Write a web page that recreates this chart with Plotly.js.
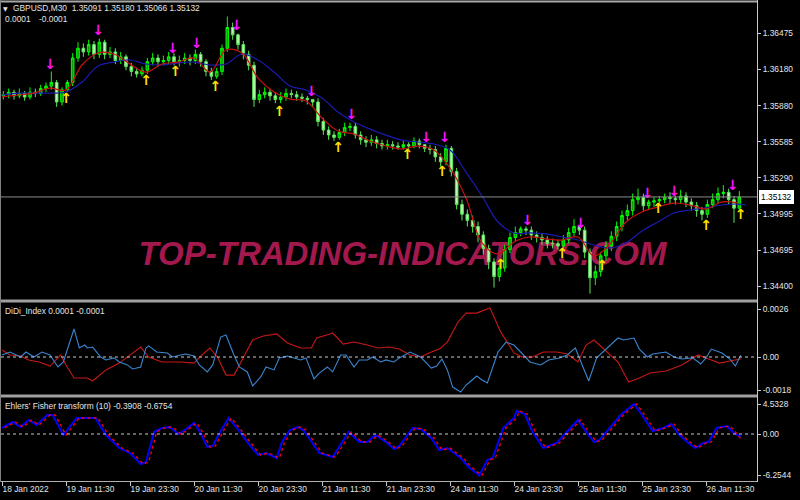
<!DOCTYPE html>
<html><head><meta charset="utf-8">
<script src="https://cdn.plot.ly/plotly-3.0.1.min.js"></script>
<style>html,body{margin:0;padding:0;background:#000;}#chart{width:800px;height:500px;}</style>
</head><body><div id="chart"></div>
<script>
// ---------- DATA ----------
const symbolTitle = 'GBPUSD,M30';
const lastBarOHLC = '1.35091 1.35180 1.35066 1.35132';
const lastPrice = 1.35132;
const tickIdx = [0,24,48,72,96,120,144,168,192,216,240,264];
const tickText = ['18 Jan 2022','19 Jan 11:30','19 Jan 23:30','20 Jan 11:30','20 Jan 23:30','21 Jan 11:30','21 Jan 23:30','24 Jan 11:30','24 Jan 23:30','25 Jan 11:30','25 Jan 23:30','26 Jan 11:30'];
const priceTickText = ['1.36475','1.36180','1.35880','1.35585','1.35290','1.34995','1.34695','1.34400'];
const didiTickVals = [0.0026, 0, -0.0018];
const didiTickText = ['0.0026','0.00','-0.0018'];
const fisherTickVals = [4.5328, 0, -6.2544];
const fisherTickText = ['4.5328','0.00','-6.2544'];

const openP = [1.3596,1.3597,1.3599,1.3596,1.3598,1.3595,1.3599,1.3598,1.3602,1.3604,
1.3607,1.3591,1.3601,1.3607,1.3627,1.3635,1.3632,1.3638,1.3630,1.3640,
1.3630,1.3632,1.3625,1.3628,1.3620,1.3616,1.3614,1.3617,1.3624,1.3627,
1.3624,1.3625,1.3628,1.3624,1.3625,1.3627,1.3625,1.3630,1.3624,1.3616,
1.3612,1.3616,1.3635,1.3652,1.3646,1.3638,1.3630,1.3621,1.3593,1.3597,
1.3599,1.3596,1.3593,1.3595,1.3598,1.3597,1.3595,1.3594,1.3593,1.3591,
1.3575,1.3568,1.3564,1.3562,1.3566,1.3570,1.3571,1.3564,1.3560,1.3558,
1.3560,1.3557,1.3555,1.3556,1.3555,1.3554,1.3556,1.3555,1.3559,1.3556,
1.3553,1.3552,1.3546,1.3542,1.3553,1.3534,1.3507,1.3499,1.3494,1.3489,
1.3482,1.3471,1.3460,1.3448,1.3455,1.3470,1.3480,1.3484,1.3487,1.3486,
1.3482,1.3480,1.3478,1.3475,1.3475,1.3473,1.3478,1.3484,1.3489,1.3486,
1.3468,1.3447,1.3452,1.3465,1.3473,1.3481,1.3489,1.3498,1.3502,1.3511,
1.3513,1.3506,1.3509,1.3510,1.3511,1.3513,1.3512,1.3511,1.3514,1.3509,
1.3506,1.3502,1.3499,1.3507,1.3511,1.3516,1.3517,1.3511,1.3504];
const highP = [1.3600,1.3602,1.3601,1.3602,1.3600,1.3603,1.3602,1.3605,1.3607,1.3616,
1.3609,1.3603,1.3609,1.3631,1.3640,1.3639,1.3642,1.3641,1.3643,1.3642,
1.3636,1.3635,1.3632,1.3630,1.3623,1.3619,1.3620,1.3627,1.3631,1.3630,
1.3629,1.3632,1.3631,1.3629,1.3631,1.3630,1.3634,1.3632,1.3626,1.3619,
1.3619,1.3638,1.3661,1.3656,1.3647,1.3641,1.3633,1.3624,1.3601,1.3603,
1.3602,1.3599,1.3599,1.3602,1.3601,1.3600,1.3598,1.3596,1.3593,1.3594,
1.3578,1.3571,1.3567,1.3569,1.3574,1.3574,1.3574,1.3567,1.3563,1.3564,
1.3563,1.3560,1.3560,1.3559,1.3558,1.3559,1.3558,1.3562,1.3561,1.3556,
1.3556,1.3555,1.3549,1.3556,1.3555,1.3537,1.3511,1.3503,1.3498,1.3493,
1.3485,1.3474,1.3463,1.3459,1.3474,1.3484,1.3489,1.3489,1.3489,1.3489,
1.3485,1.3483,1.3481,1.3479,1.3478,1.3482,1.3488,1.3495,1.3490,1.3489,
1.3471,1.3457,1.3468,1.3477,1.3485,1.3493,1.3502,1.3507,1.3516,1.3520,
1.3516,1.3511,1.3513,1.3514,1.3516,1.3517,1.3514,1.3519,1.3517,1.3512,
1.3509,1.3505,1.3511,1.3516,1.3521,1.3523,1.3520,1.3514,1.3518];
const lowP = [1.3593,1.3594,1.3593,1.3594,1.3592,1.3593,1.3595,1.3596,1.3599,1.3601,
1.3587,1.3588,1.3599,1.3604,1.3624,1.3628,1.3629,1.3626,1.3627,1.3626,
1.3627,1.3622,1.3622,1.3617,1.3612,1.3611,1.3612,1.3614,1.3621,1.3620,
1.3621,1.3622,1.3621,1.3620,1.3622,1.3621,1.3622,1.3620,1.3612,1.3609,
1.3610,1.3613,1.3632,1.3642,1.3634,1.3626,1.3617,1.3587,1.3590,1.3594,
1.3592,1.3590,1.3590,1.3592,1.3594,1.3592,1.3591,1.3589,1.3587,1.3571,
1.3564,1.3560,1.3559,1.3560,1.3563,1.3567,1.3561,1.3556,1.3554,1.3555,
1.3553,1.3552,1.3552,1.3552,1.3552,1.3552,1.3552,1.3553,1.3553,1.3550,
1.3548,1.3542,1.3538,1.3539,1.3530,1.3503,1.3494,1.3489,1.3484,1.3476,
1.3466,1.3454,1.3439,1.3444,1.3452,1.3467,1.3477,1.3481,1.3482,1.3478,
1.3476,1.3474,1.3471,1.3471,1.3470,1.3471,1.3475,1.3481,1.3482,1.3463,
1.3434,1.3441,1.3448,1.3461,1.3469,1.3477,1.3485,1.3494,1.3498,1.3507,
1.3502,1.3503,1.3505,1.3508,1.3508,1.3508,1.3507,1.3508,1.3505,1.3502,
1.3497,1.3494,1.3496,1.3504,1.3508,1.3512,1.3507,1.3492,1.3503];
const closeP = [1.3597,1.3599,1.3596,1.3598,1.3595,1.3599,1.3598,1.3602,1.3604,1.3607,
1.3591,1.3601,1.3607,1.3627,1.3635,1.3632,1.3638,1.3630,1.3640,1.3630,
1.3632,1.3625,1.3628,1.3620,1.3616,1.3614,1.3617,1.3624,1.3627,1.3624,
1.3625,1.3628,1.3624,1.3625,1.3627,1.3625,1.3630,1.3624,1.3616,1.3612,
1.3616,1.3635,1.3652,1.3646,1.3638,1.3630,1.3621,1.3593,1.3597,1.3599,
1.3596,1.3593,1.3595,1.3598,1.3597,1.3595,1.3594,1.3593,1.3591,1.3575,
1.3568,1.3564,1.3562,1.3566,1.3570,1.3571,1.3564,1.3560,1.3558,1.3560,
1.3557,1.3555,1.3556,1.3555,1.3554,1.3556,1.3555,1.3559,1.3556,1.3553,
1.3552,1.3546,1.3542,1.3553,1.3534,1.3507,1.3499,1.3494,1.3489,1.3482,
1.3471,1.3460,1.3448,1.3455,1.3470,1.3480,1.3484,1.3487,1.3486,1.3482,
1.3480,1.3478,1.3475,1.3475,1.3473,1.3478,1.3484,1.3489,1.3486,1.3468,
1.3447,1.3452,1.3465,1.3473,1.3481,1.3489,1.3498,1.3502,1.3511,1.3513,
1.3506,1.3509,1.3510,1.3511,1.3513,1.3512,1.3511,1.3514,1.3509,1.3506,
1.3502,1.3499,1.3507,1.3511,1.3516,1.3517,1.3511,1.3504,1.35132];

const maIdx = [0,6,12,18,24,30,36,42,48,54,60,66,72,78,84,90,96,102,108,114,120,126,132,138,144,150,156,162,168,174,180,186,192,198,204,210,216,222,228,234,240,246,252,258,264,270,276];
const fastMA = [1.35951,1.35967,1.35983,1.36024,1.36008,1.36213,1.36311,1.36303,1.36221,1.36155,1.36221,1.36237,1.36270,1.36155,1.36336,1.36311,1.36106,1.35992,1.35934,1.35918,1.35779,1.35672,1.35648,1.35590,1.35549,1.35525,1.35549,1.35517,1.35369,1.35123,1.34755,1.34665,1.34763,1.34804,1.34788,1.34779,1.34804,1.34648,1.34747,1.34927,1.35009,1.35050,1.35082,1.35066,1.35033,1.35091,1.35082];
const slowIdx = [0,6,12,18,24,30,36,42,48,54,60,66,72,78,84,90,96,102,108,114,120,126,132,138,144,150,156,162,168,174,180,186,192,198,204,210,216,222,228,234,240,246,252,258,264,270,276,279];
const slowMA = [1.35967,1.35983,1.35983,1.35983,1.35992,1.36073,1.36204,1.36237,1.36254,1.36221,1.36213,1.36229,1.36237,1.36213,1.36221,1.36303,1.36254,1.36155,1.36041,1.36008,1.35942,1.35828,1.35746,1.35688,1.35639,1.35598,1.35582,1.35566,1.35517,1.35336,1.35140,1.34927,1.34837,1.34837,1.34829,1.34804,1.34779,1.34738,1.34714,1.34755,1.34853,1.34927,1.35001,1.35025,1.35042,1.35066,1.35074,1.35066];

const sellIdx = [18,36,64,73,88,116,131,159,166,197,217,242,252,274];
const sellPrice = [1.3621,1.3649,1.3634,1.3638,1.3653,1.3599,1.3580,1.3561,1.3561,1.3493,1.3491,1.3515,1.3517,1.3522];
const buyIdx = [24,54,65,80,104,126,152,165,187,210,225,246,264,277];
const buyPrice = [1.3593,1.3608,1.3615,1.3603,1.3582,1.3553,1.3547,1.3533,1.3457,1.3466,1.3456,1.3503,1.3489,1.3498];

const didiBlueIdx = [0,3,7,9,12,15,18,21,23,27,29,31,32,34,37,39,42,44,47,49,52,54,55,58,62,64,67,69,72,74,77,79,82,84,87,89,92,94,97,99,102,104,107,109,112,114,117,119,122,124,127,129,132,134,137,139,142,144,147,149,153,157,161,163,165,167,169,172,174,175,178,180,182,186,189,192,195,198,202,205,209,212,215,217,220,223,227,231,233,237,239,242,244,249,252,255,259,262,264,266,270,273,275,277];
const didiBlue = [0.00011,0.00027,0,0.00027,0,0.00027,0.00011,-0.00054,-0.00027,0.00152,0.00049,0.00065,0.00049,0.00054,0,-0.00016,-0.00005,-0.00027,-0.00043,-0.00065,-0.00054,0.00049,0.0006,0.00027,0.00022,0,0.00011,0.00016,0.00005,-0.00043,-0.00081,-0.00043,0.00108,0.00119,0.00011,-0.00054,-0.00081,-0.00157,-0.00108,-0.00054,-0.0007,-0.00005,0.00005,-0.00005,-0.00016,-0.00005,-0.00119,-0.00087,-0.00054,-0.00081,0.00011,0.00011,-0.00054,-0.00016,-0.00016,0,-0.00027,-0.00016,-0.00027,-0.00005,0.00027,0,-0.0006,-0.00049,-0.00011,-0.0007,-0.00163,-0.0019,-0.00152,-0.00141,-0.00103,-0.00125,-0.00141,0.00027,0.00081,0.00065,0.00016,-0.00027,-0.00043,-0.00016,-0.00005,0.00011,0.00049,-0.00027,-0.0013,-0.00005,0.00049,0.00103,0.00092,0.00103,0.00043,0,0.00016,0.00027,0,-0.00011,-0.00005,-0.00038,-0.00005,0.00043,0.00022,-0.00011,-0.00049,0.0001];
const didiRedIdx = [0,3,7,10,14,18,22,24,27,32,34,39,44,48,52,55,60,67,72,75,78,81,84,87,90,94,98,103,107,112,116,118,123,124,128,132,137,141,145,149,153,157,161,164,167,171,174,178,183,187,192,195,199,203,208,212,216,219,222,225,231,235,239,243,249,255,261,266,269,273,277];
const didiRed = [0.00038,0.00011,0.00005,-0.00016,-0.00027,-0.00049,0.00011,-0.00043,-0.00114,-0.00114,-0.0013,-0.0007,-0.00033,0.00011,0.00054,0,-0.00027,-0.00027,-0.00033,0.00011,0.00049,-0.00005,-0.00098,-0.00098,-0.00016,0.00092,0.00114,0.00125,0.00076,0.00049,0.00049,0.00103,0.00125,0.0013,0.0007,0.00081,0.00065,0.00049,0.00054,0.00043,0.00011,0,0.00027,0.00043,0.00081,0.0019,0.00238,0.00238,0.00266,0.00136,0.00022,0,0,0.00027,0.00027,0.00016,-0.00027,0.00065,0.00092,0.00054,-0.00027,-0.00136,-0.00114,-0.00087,-0.00076,-0.00043,0.00011,-0.00016,-0.00033,-0.00022,-0.0001];

const fisherIdx = [0,4,7,10,13,17,19,23,28,35,39,44,48,52,54,57,60,63,66,68,72,74,77,79,82,85,89,92,96,99,103,105,108,111,113,116,119,124,127,130,134,137,140,144,147,149,154,157,161,164,167,172,175,179,182,184,188,192,193,196,199,203,208,212,216,218,222,224,232,237,240,244,248,251,254,257,260,263,265,268,272,274,277];
const fisher = [0.91,1.81,1.06,2.12,1.36,2.87,2.87,-0.15,2.42,2.42,-0.15,-2.12,-2.87,-4.53,-4.23,0.30,0.91,1.06,0,0.45,1.66,0.45,-1.96,-1.81,0.45,2.42,0.45,-1.21,-3.17,-2.87,-3.63,-1.21,0.60,1.06,0.60,-1.21,-2.87,-3.48,-1.66,0.30,-1.21,-1.21,-0.15,-1.21,-2.27,-1.81,0.91,0.76,-0.60,-2.42,-2.12,-3.63,-4.99,-6.25,-3.93,-3.63,0.91,2.42,3.48,3.02,0.30,-2.12,-1.36,0.30,2.12,0.91,-1.21,-0.91,2.87,4.53,2.87,0.45,0.91,1.51,-0.15,-1.21,-2.12,-1.36,-1.21,0.91,1.21,0.30,-0.39];
const signalIdx = [1,5,8,11,14,18,20,24,29,36,40,45,49,53,55,58,61,64,67,69,73,75,78,80,83,86,90,93,97,100,104,106,109,112,114,117,120,125,128,131,135,138,141,145,148,150,155,158,162,165,168,173,176,180,183,185,189,193,194,197,200,204,209,213,217,219,223,225,233,238,241,245,249,252,255,258,261,264,266,269,273,275,277];
const signal = [0.91,1.81,1.06,2.12,1.36,2.87,2.87,-0.15,2.42,2.42,-0.15,-2.12,-2.87,-4.53,-4.23,0.30,0.91,1.06,0,0.45,1.66,0.45,-1.96,-1.81,0.45,2.42,0.45,-1.21,-3.17,-2.87,-3.63,-1.21,0.60,1.06,0.60,-1.21,-2.87,-3.48,-1.66,0.30,-1.21,-1.21,-0.15,-1.21,-2.27,-1.81,0.91,0.76,-0.60,-2.42,-2.12,-3.63,-4.99,-6.25,-3.93,-3.63,0.91,2.42,3.48,3.02,0.30,-2.12,-1.36,0.30,2.12,0.91,-1.21,-0.91,2.87,4.53,2.87,0.45,0.91,1.51,-0.15,-1.21,-2.12,-1.36,-1.21,0.91,1.21,0.30,-0.68];

// ---------- GEOMETRY / STYLE ----------
const ML=1, MR=43, MT=0, MB=18, PW=800-ML-MR, PH=500-MT-MB;
const px = x => (x-ML)/PW;
const py = y => 1-(y-MT)/PH;
const FONT = 'Liberation Sans, Arial, sans-serif';
const TXT = '#e4e4e4';
const FS = 8.4;

const candleX = openP.map((_, i) => 2*i + 0.5);

const traces = [
  {type:'candlestick', x:candleX, open:openP, high:highP, low:lowP, close:closeP, xaxis:'x', yaxis:'y',
   increasing:{line:{color:'#00ff00', width:1}, fillcolor:'#109a10'},
   decreasing:{line:{color:'#5ce65c', width:1}, fillcolor:'#b8f8b0'},
   whiskerwidth:0, hoverinfo:'skip'},
  {type:'scatter', mode:'lines', x:slowIdx, y:slowMA, xaxis:'x', yaxis:'y', line:{color:'#1a1ab0', width:1.2, shape:'spline'}, hoverinfo:'skip'},
  {type:'scatter', mode:'lines', x:maIdx, y:fastMA, xaxis:'x', yaxis:'y', line:{color:'#c81010', width:1.2, shape:'spline'}, hoverinfo:'skip'},
  {type:'scatter', mode:'text', x:sellIdx, y:sellPrice, text:sellIdx.map(()=>'↓'), xaxis:'x', yaxis:'y', cliponaxis:false,
   textposition:'middle center', textfont:{family:'DejaVu Sans', size:14, color:'#ff10ff', weight:'bold'}, hoverinfo:'skip'},
  {type:'scatter', mode:'text', x:buyIdx, y:buyPrice, text:buyIdx.map(()=>'↑'), xaxis:'x', yaxis:'y', cliponaxis:false,
   textposition:'middle center', textfont:{family:'DejaVu Sans', size:14, color:'#ffe000', weight:'bold'}, hoverinfo:'skip'},
  {type:'scatter', mode:'lines', x:didiRedIdx, y:didiRed, xaxis:'x', yaxis:'y2', line:{color:'#c81818', width:1.1}, hoverinfo:'skip'},
  {type:'scatter', mode:'lines', x:didiBlueIdx, y:didiBlue, xaxis:'x', yaxis:'y2', line:{color:'#3a86d2', width:1.1}, hoverinfo:'skip'},
  {type:'scatter', mode:'lines', x:fisherIdx, y:fisher, xaxis:'x', yaxis:'y3', line:{color:'#0000ff', width:2}, hoverinfo:'skip'},
  {type:'scatter', mode:'lines', x:signalIdx, y:signal, xaxis:'x', yaxis:'y3', line:{color:'#ff0000', width:1.3, dash:'dot'}, hoverinfo:'skip'}
];

const yCommon = {side:'right', anchor:'x', ticks:'outside', ticklen:3, tickcolor:'#c8c8c8', showgrid:false, zeroline:false, showline:false, fixedrange:true,
  tickfont:{family:FONT, size:FS, color:TXT}};

const shapes = [
  {type:'rect', layer:'below', xref:'paper', yref:'paper', x0:px(100), x1:px(705), y0:py(270), y1:py(230), line:{width:0}, fillcolor:'rgba(0,0,0,0)',
   label:{text:'TOP-TRADING-INDICATORS.COM', textposition:'middle center', font:{family:FONT, size:33, color:'#a3194e', weight:'bold', style:'italic'}}},
  {type:'line', xref:'paper', yref:'y', x0:0, x1:1, y0:lastPrice, y1:lastPrice, line:{color:'#8c8c8c', width:1}},
  {type:'line', xref:'paper', yref:'y2', x0:0, x1:1, y0:0, y1:0, line:{color:'#c8c8c8', width:1, dash:'dot'}},
  {type:'line', xref:'paper', yref:'y3', x0:0, x1:1, y0:0, y1:0, line:{color:'#c8c8c8', width:1, dash:'dot'}},
  {type:'line', xref:'paper', yref:'paper', x0:px(0), x1:px(757), y0:py(1.5), y1:py(1.5), line:{color:'#a8a8a8', width:2}},
  {type:'rect', xref:'paper', yref:'paper', x0:px(0), x1:px(757), y0:py(302.6), y1:py(299.4), fillcolor:'#a0a0a0', line:{width:0}},
  {type:'rect', xref:'paper', yref:'paper', x0:px(0), x1:px(757), y0:py(397.6), y1:py(394.4), fillcolor:'#a0a0a0', line:{width:0}},
  {type:'line', xref:'paper', yref:'paper', x0:px(0), x1:px(757.5), y0:py(481.5), y1:py(481.5), line:{color:'#b0b0b0', width:1}},
  {type:'line', xref:'paper', yref:'paper', x0:px(757.5), x1:px(757.5), y0:py(0), y1:py(482), line:{color:'#c8c8c8', width:1}},
  {type:'line', xref:'paper', yref:'paper', x0:px(0.5), x1:px(0.5), y0:py(0), y1:py(482), line:{color:'#808080', width:1}}
];

function ann(text, x, y, extra) {
  return Object.assign({text:text, xref:'paper', yref:'paper', x:px(x), y:py(y), xanchor:'left', yanchor:'middle', showarrow:false,
    font:{family:FONT, size:FS, color:TXT}, borderpad:0}, extra||{});
}
const annotations = [
  ann('▼', 2, 8, {font:{family:'DejaVu Sans', size:6, color:TXT}}),
  ann(symbolTitle + '\u00a0\u00a0' + lastBarOHLC, 12, 8),
  ann('0.0001', 4, 19),
  ann('-0.0001', 38, 19),
  ann('DiDi_Index 0.0001 -0.0001', 4, 311),
  ann("Ehlers' Fisher transform (10) -0.3908 -0.6754", 4, 406),
  {text:lastPrice.toFixed(5), xref:'paper', yref:'y', x:px(759), y:lastPrice, xanchor:'left', yanchor:'middle', showarrow:false,
   font:{family:FONT, size:FS, color:'#000000'}, bgcolor:'#ffffff', bordercolor:'#ffffff', borderwidth:1, borderpad:1}
];

const layout = {
  width:800, height:500, margin:{l:ML, r:MR, t:MT, b:MB, pad:0},
  paper_bgcolor:'#000000', plot_bgcolor:'rgba(0,0,0,0)', showlegend:false, hovermode:false,
  font:{family:FONT, size:FS, color:TXT},
  xaxis:{domain:[0,1], range:[-0.375, 283.125], anchor:'y3', tickmode:'array', tickvals:tickIdx, ticktext:tickText,
    ticks:'outside', ticklen:4, tickcolor:'#c8c8c8', ticklabelposition:'outside right', showgrid:false, zeroline:false, showline:false,
    rangeslider:{visible:false}, fixedrange:true, tickfont:{family:FONT, size:FS, color:TXT}},
  yaxis:Object.assign({}, yCommon, {domain:[py(299), py(2)], range:[1.34296, 1.36729], tickmode:'array',
    tickvals:priceTickText.map(Number), ticktext:priceTickText}),
  yaxis2:Object.assign({}, yCommon, {domain:[py(395), py(303)], range:[-0.00206, 0.002927], tickmode:'array',
    tickvals:didiTickVals, ticktext:didiTickText}),
  yaxis3:Object.assign({}, yCommon, {domain:[py(481), py(398)], range:[-7.10, 5.44], tickmode:'array',
    tickvals:fisherTickVals, ticktext:fisherTickText}),
  shapes:shapes,
  annotations:annotations
};

Plotly.newPlot('chart', traces, layout, {staticPlot:true, displayModeBar:false});
</script></body></html>
